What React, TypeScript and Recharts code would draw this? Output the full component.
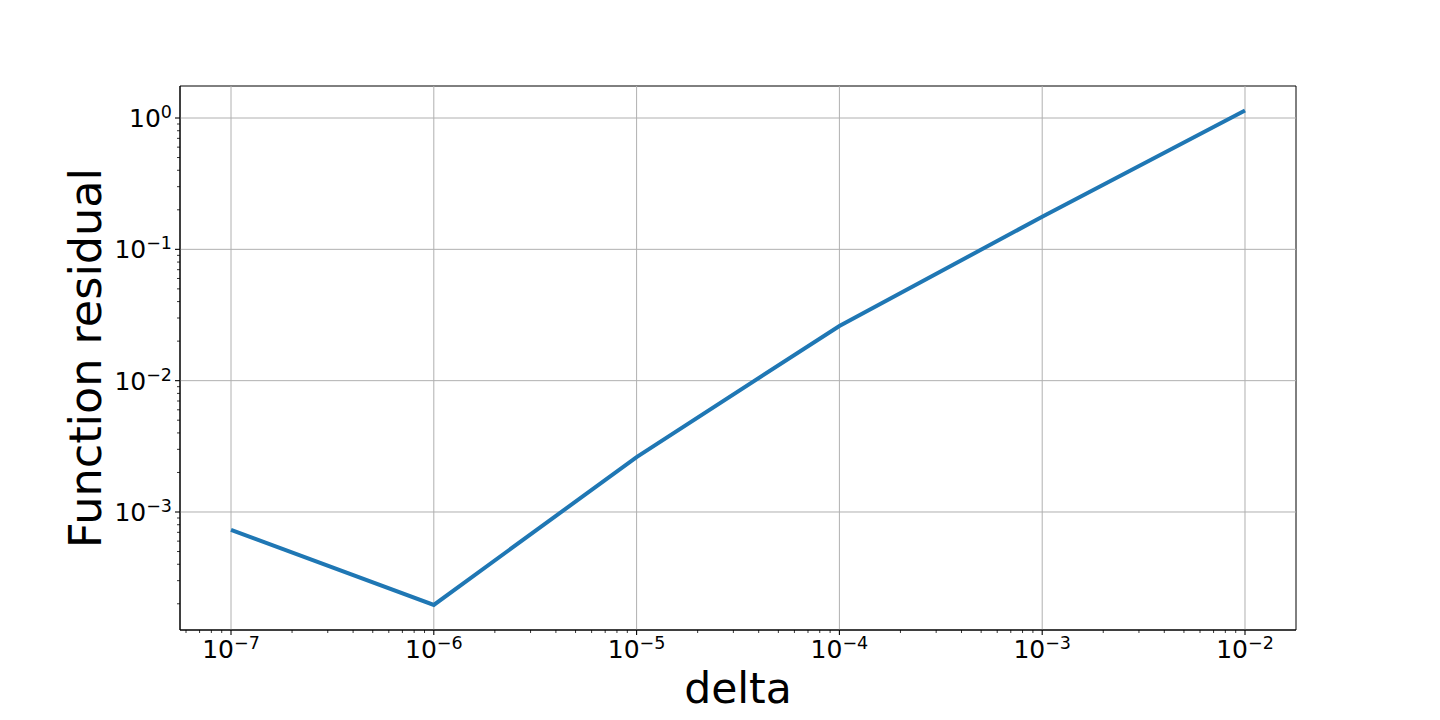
import React from 'react';
import {
  LineChart, Line, XAxis, YAxis, ReferenceLine, ReferenceArea, Label
} from 'recharts';

// values
const deltas = [1e-7, 1e-6, 1e-5, 1e-4, 1e-3, 1e-2];
const residuals = [7.3e-4, 1.96e-4, 2.62e-3, 2.61e-2, 0.177, 1.14];

const xDecades = [-8, -7, -6, -5, -4, -3, -2];
const yDecades = [-4, -3, -2, -1, 0];
const xMajorExp = [-7, -6, -5, -4, -3, -2];
const yMajorExp = [-3, -2, -1, 0];
const mantissas = [1, 2, 3, 4, 5, 6, 7, 8, 9];

const xDomain = [Math.pow(10, -7.2515), Math.pow(10, -1.7485)];
const yDomain = [Math.pow(10, -3.8985), Math.pow(10, 0.2437)];

const data = deltas.map((d, i) => ({ delta: d, residual: residuals[i] }));

const buildTicks = (decades: number[], domain: number[]) => {
  const out: number[] = [];
  decades.forEach((e) => {
    mantissas.forEach((m) => {
      const v = m * Math.pow(10, e);
      if (v >= domain[0] && v <= domain[1]) out.push(v);
    });
  });
  return out;
};

const xTicks = buildTicks(xDecades, xDomain);
const yTicks = buildTicks(yDecades, yDomain);
const xMajors = xMajorExp.map((e) => Math.pow(10, e));
const yMajors = yMajorExp.map((e) => Math.pow(10, e));

const FONT = '"DejaVu Sans", sans-serif';
const TICK_FS = 25;
const EXP_FS = 17.5;

const expOf = (v: number) => Math.round(Math.log10(v));
const isMajor = (v: number) => Math.abs(Math.log10(v) - expOf(v)) < 1e-6;
const fmtExp = (e: number) => (e < 0 ? '\u2212' + Math.abs(e) : String(e));

const XTick = (props: any) => {
  const { x, y, payload } = props;
  const v = payload.value;
  const major = isMajor(v);
  return (
    <g>
      <line x1={x} x2={x} y1={y} y2={y + (major ? 5 : 3)} stroke="#000" strokeWidth={major ? 1.1 : 0.8} />
      {major && (
        <text x={x} y={y + 28} textAnchor="middle" fontFamily={FONT} fontSize={TICK_FS} fill="#000">
          <tspan>10</tspan>
          <tspan dy={-9} fontSize={EXP_FS}>{fmtExp(expOf(v))}</tspan>
        </text>
      )}
    </g>
  );
};

const YTick = (props: any) => {
  const { x, y, payload } = props;
  const v = payload.value;
  const major = isMajor(v);
  return (
    <g>
      <line x1={x - (major ? 5 : 3)} x2={x} y1={y} y2={y} stroke="#000" strokeWidth={major ? 1.1 : 0.8} />
      {major && (
        <text x={x - 8} y={y + 9} textAnchor="end" fontFamily={FONT} fontSize={TICK_FS} fill="#000">
          <tspan>10</tspan>
          <tspan dy={-9} fontSize={EXP_FS}>{fmtExp(expOf(v))}</tspan>
        </text>
      )}
    </g>
  );
};

export default function App() {
  return (
    <div style={{ position: 'absolute', left: 0, top: 0, width: 1440, height: 720, background: '#fff' }}>
      <LineChart width={1440} height={720} data={data} margin={{ top: 86, right: 144, left: 0, bottom: 0 }}>
        <XAxis
          dataKey="delta"
          type="number"
          scale="log"
          domain={xDomain}
          allowDataOverflow
          ticks={xTicks}
          interval={0}
          tick={<XTick />}
          tickLine={false}
          tickSize={0}
          tickMargin={0}
          axisLine={{ stroke: '#000', strokeWidth: 1 }}
          height={90}
        >
          <Label
            content={(p: any) => {
              const vb = p.viewBox;
              return (
                <text x={vb.x + vb.width / 2} y={vb.y + 73} textAnchor="middle" fontFamily={FONT} fontSize={42.5} fill="#000">
                  delta
                </text>
              );
            }}
          />
        </XAxis>
        <YAxis
          type="number"
          scale="log"
          domain={yDomain}
          allowDataOverflow
          ticks={yTicks}
          interval={0}
          tick={<YTick />}
          tickLine={false}
          tickSize={0}
          tickMargin={0}
          axisLine={{ stroke: '#000', strokeWidth: 1 }}
          width={180}
        >
          <Label
            content={(p: any) => {
              const vb = p.viewBox;
              const cx = vb.x + 101;
              const cy = vb.y + vb.height / 2;
              return (
                <text x={cx} y={cy} transform={`rotate(-90, ${cx}, ${cy})`} textAnchor="middle" fontFamily={FONT} fontSize={44.5} fill="#000">
                  Function residual
                </text>
              );
            }}
          />
        </YAxis>
        {xMajors.map((v) => (
          <ReferenceLine key={'gx' + v} x={v} stroke="#b0b0b0" strokeWidth={1} />
        ))}
        {yMajors.map((v) => (
          <ReferenceLine key={'gy' + v} y={v} stroke="#b0b0b0" strokeWidth={1} />
        ))}
        <ReferenceArea x1={xDomain[0]} x2={xDomain[1]} y1={yDomain[0]} y2={yDomain[1]} fill="none" fillOpacity={0} stroke="#000" strokeWidth={1} />
        <Line
          type="linear"
          dataKey="residual"
          stroke="#1f77b4"
          strokeWidth={4}
          dot={false}
          isAnimationActive={false}
        />
      </LineChart>
    </div>
  );
}
